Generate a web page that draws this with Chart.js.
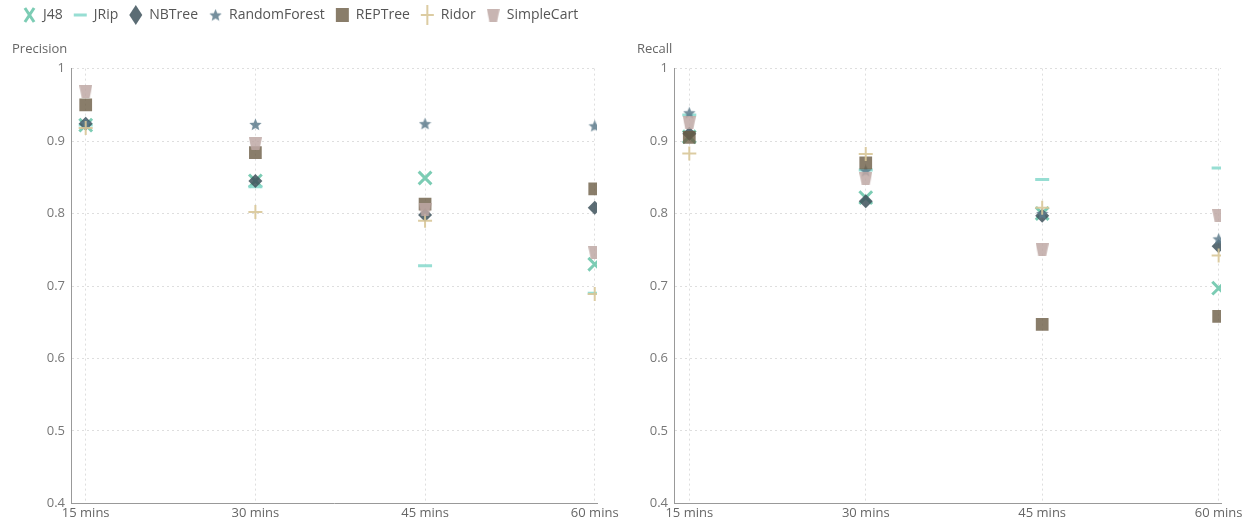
<!DOCTYPE html>
<html>
<head>
<meta charset="utf-8">
<script src="https://cdn.jsdelivr.net/npm/chart.js@4.4.0/dist/chart.umd.min.js"></script>
<style>
  body { margin: 0; background: #fff; }
  #wrap { position: relative; width: 1249px; height: 529px; }
  .box { position: absolute; top: 0; height: 529px; }
</style>
</head>
<body>
<div id="wrap">
  <div class="box" style="left:0;width:625px"><canvas id="precChart"></canvas></div>
  <div class="box" style="left:625px;width:624px"><canvas id="recChart"></canvas></div>
</div>
<script>
// data
const minutes = [15, 30, 45, 60];
const yTicks = [0.4, 0.5, 0.6, 0.7, 0.8, 0.9, 1];

const precJ48 = [0.922, 0.845, 0.849, 0.730];
const precJRip = [0.922, 0.837, 0.728, 0.690];
const precNBTree = [0.924, 0.845, 0.798, 0.808];
const precRandomForest = [0.925, 0.923, 0.924, 0.921];
const precREPTree = [0.950, 0.884, 0.813, 0.834];
const precRidor = [0.918, 0.802, 0.790, 0.689];
const precSimpleCart = [0.968, 0.896, 0.806, 0.746];

const recJ48 = [0.906, 0.822, 0.800, 0.697];
const recJRip = [0.936, 0.860, 0.847, 0.863];
const recNBTree = [0.910, 0.817, 0.797, 0.755];
const recRandomForest = [0.939, 0.859, 0.800, 0.765];
const recREPTree = [0.905, 0.870, 0.647, 0.658];
const recRidor = [0.883, 0.882, 0.808, 0.742];
const recSimpleCart = [0.925, 0.848, 0.750, 0.797];

// custom marker images
function makeStar(size, color) {
  const c = document.createElement('canvas');
  c.width = size; c.height = size;
  const g = c.getContext('2d');
  const cx = size / 2, cy = size / 2 + 0.5, ro = size / 2, ri = ro * 0.45;
  g.beginPath();
  for (let i = 0; i < 10; i++) {
    const r = i % 2 ? ri : ro;
    const a = -Math.PI / 2 + i * Math.PI / 5;
    g.lineTo(cx + r * Math.cos(a), cy + r * Math.sin(a));
  }
  g.closePath();
  g.fillStyle = color; g.fill();
  return c;
}
function makeTrap(w, h, color) {
  const c = document.createElement('canvas');
  c.width = w; c.height = h;
  const g = c.getContext('2d');
  g.beginPath();
  g.moveTo(0, 0); g.lineTo(w, 0); g.lineTo(w * 0.8, h); g.lineTo(w * 0.2, h);
  g.closePath();
  g.fillStyle = color; g.fill();
  return c;
}

const starImg = makeStar(13, 'rgba(93,123,140,0.85)');
const trapImg = makeTrap(13, 13, 'rgba(190,168,165,0.85)');

// later series are drawn on top, like the original
function buildSets(j48, jrip, nb, rf, rep, rid, sc) {
  const pts = arr => arr.map((v, i) => ({ x: minutes[i], y: v }));
  return [
    { label: 'J48', order: 7, data: pts(j48), pointStyle: 'crossRot', pointRadius: 9, borderWidth: 3, borderColor: 'rgba(110,198,172,0.9)', backgroundColor: 'rgba(110,198,172,0.9)' },
    { label: 'JRip', order: 6, data: pts(jrip), pointStyle: 'line', pointRadius: 7, borderWidth: 3, borderColor: 'rgba(140,218,206,0.9)', backgroundColor: 'rgba(140,218,206,0.9)' },
    { label: 'NBTree', order: 5, data: pts(nb), pointStyle: 'rectRot', pointRadius: 7, borderWidth: 0, borderColor: 'rgba(62,82,92,0.85)', backgroundColor: 'rgba(62,82,92,0.85)' },
    { label: 'RandomForest', order: 4, data: pts(rf), pointStyle: starImg, borderColor: '#5d7b8c', backgroundColor: '#5d7b8c' },
    { label: 'REPTree', order: 3, data: pts(rep), pointStyle: 'rect', pointRadius: 9, borderWidth: 0, borderColor: 'rgba(107,93,69,0.8)', backgroundColor: 'rgba(107,93,69,0.8)' },
    { label: 'Ridor', order: 2, data: pts(rid), pointStyle: 'cross', pointRadius: 7, borderWidth: 2, borderColor: 'rgba(216,198,152,0.9)', backgroundColor: 'rgba(216,198,152,0.9)' },
    { label: 'SimpleCart', order: 1, data: pts(sc), pointStyle: trapImg, borderColor: '#bea8a5', backgroundColor: '#bea8a5' }
  ];
}

const fontFam = "'Open Sans', 'Noto Sans', sans-serif";

function makeOptions(title, yWidth, padTop, showLegend) {
  return {
    responsive: true, maintainAspectRatio: false, animation: false,
    layout: { padding: { left: 12, right: 28, top: padTop, bottom: 6 } },
    plugins: {
      legend: {
        display: showLegend, align: 'start', weight: 1000,
        labels: {
          usePointStyle: true, boxHeight: 14, pointStyleWidth: 13, padding: 11,
          color: '#555', font: { family: fontFam, size: 14 },
          sort: (a, b) => a.datasetIndex - b.datasetIndex
        }
      },
      title: { display: true, text: title, align: 'start', weight: 500, color: '#666', font: { family: fontFam, size: 13, weight: 'normal' }, padding: { top: 9, bottom: 12 } },
      tooltip: { enabled: false }
    },
    scales: {
      x: {
        type: 'linear', min: 13.7, max: 60.2,
        afterBuildTicks: s => { s.ticks = minutes.map(v => ({ value: v })); },
        ticks: { callback: v => v + ' mins', color: '#666', font: { family: fontFam, size: 13 }, padding: 2, maxRotation: 0 },
        grid: { color: '#dedede', drawTicks: false },
        border: { display: true, color: '#999', width: 1, dash: [2, 3] }
      },
      y: {
        min: 0.4, max: 1,
        afterBuildTicks: s => { s.ticks = yTicks.map(v => ({ value: v })); },
        afterFit: s => { s.width = yWidth; },
        ticks: { callback: v => (v === 1 ? '1' : v.toFixed(1)), color: '#777', font: { family: fontFam, size: 13 }, padding: 6 },
        grid: { color: '#dedede', drawTicks: false },
        border: { display: true, color: '#999', width: 1, dash: [2, 3] }
      }
    }
  };
}

const precChart = new Chart(document.getElementById('precChart'), {
  type: 'scatter',
  data: { datasets: buildSets(precJ48, precJRip, precNBTree, precRandomForest, precREPTree, precRidor, precSimpleCart) },
  options: makeOptions('Precision', 59, -3, true)
});

// right chart has no legend, so reserve the same room at the top
new Chart(document.getElementById('recChart'), {
  type: 'scatter',
  data: { datasets: buildSets(recJ48, recJRip, recNBTree, recRandomForest, recREPTree, recRidor, recSimpleCart) },
  options: makeOptions('Recall', 37, precChart.legend.bottom, false)
});
</script>
</body>
</html>
